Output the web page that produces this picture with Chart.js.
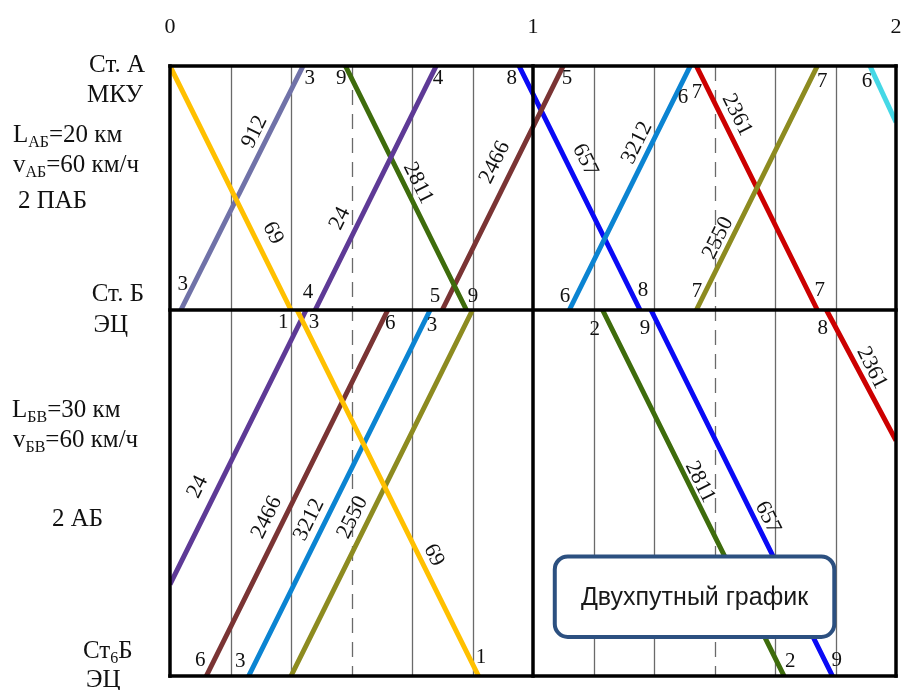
<!DOCTYPE html>
<html>
<head>
<meta charset="utf-8">
<script src="https://cdn.jsdelivr.net/npm/chart.js@4.4.1/dist/chart.umd.min.js"></script>
<style>
  html, body { margin: 0; padding: 0; background: #fff; }
  #wrap { width: 906px; height: 690px; }
</style>
</head>
<body>
<div id="wrap"><canvas id="graph" width="906" height="690"></canvas></div>
<script>
// stations (km from Ст. А) and hour ticks (minutes)
const stationKm = [0, 20, 50];
const hourLabels = ['0', '1', '2'];
const hourMinutes = [0, 60, 120];
const gridMinutes = [10, 20, 30, 40, 50, 70, 80, 90, 100, 110];
const dashedMinutes = [30, 90];

// train paths: time (min) / distance (km)
const t69 = [0, 20, 21, 51];           const km69 = [0, 20, 20, 50];
const t912 = [1.8, 22];                const km912 = [20, 0];
const t24 = [0, 22.5, 24, 44];         const km24 = [42.5, 20, 20, 0];
const t2811 = [29, 49, 71.5, 101.5];   const km2811 = [0, 20, 20, 50];
const t2466 = [6, 36, 45, 65];         const km2466 = [50, 20, 20, 0];
const t3212 = [13, 43, 66, 86];        const km3212 = [50, 20, 20, 0];
const t2550 = [20, 50, 87, 107];       const km2550 = [50, 20, 20, 0];
const t657 = [57.7, 77.7, 79.5, 109.5]; const km657 = [0, 20, 20, 50];
const t2361 = [87, 107, 108.5, 120];   const km2361 = [0, 20, 20, 30.7];
const tLast = [115.7, 120];            const kmLast = [0, 4.6];

const trains = [
  [t69, km69, '#FFC000'],
  [t912, km912, '#7072A8'],
  [t24, km24, '#5E3A96'],
  [t2811, km2811, '#3E6C0C'],
  [t2466, km2466, '#7A3434'],
  [t3212, km3212, '#0B84D2'],
  [t2550, km2550, '#8D8B20'],
  [t657, km657, '#0A0AF5'],
  [t2361, km2361, '#CC0000'],
  [tLast, kmLast, '#45D8E6']
];

// minute marks at stations
const minuteText = ['3','9','4','8','5','6','7','7','6',
                    '3','4','5','9','6','8','7','7',
                    '1','3','6','3','2','9','8',
                    '6','3','1','2','9'];
const minuteT = [23.1, 28.3, 44.3, 56.5, 65.6, 84.8, 87.1, 107.8, 115.2,
                 2.1, 22.8, 43.8, 50.1, 65.3, 78.2, 87.1, 107.4,
                 18.7, 23.8, 36.4, 43.3, 70.2, 78.5, 107.9,
                 5.0, 11.6, 51.4, 102.5, 110.2];
const minuteKm = [1.0, 1.0, 1.0, 1.0, 1.0, 2.6, 2.2, 1.3, 1.3,
                  17.9, 18.6, 18.9, 18.9, 18.9, 18.4, 18.5, 18.4,
                  21.0, 21.0, 21.1, 21.3, 21.6, 21.5, 21.5,
                  48.7, 48.85, 48.5, 48.85, 48.7];

// train numbers along lines (dir 1 = odd/down, -1 = even/up)
const numText = ['912','69','24','2811','2466','657','3212','2361','2550',
                 '24','2466','3212','2550','69','2811','657','2361'];
const numT = [14.0, 17.0, 28.1, 41.0, 53.7, 68.6, 77.2, 93.7, 90.6,
              4.6, 16.0, 23.0, 30.2, 43.6, 87.6, 98.8, 116.0];
const numKm = [5.4, 13.7, 12.5, 9.6, 7.9, 7.7, 6.3, 4.0, 14.1,
               34.5, 37.0, 37.2, 37.0, 40.1, 34.1, 37.0, 24.75];
const numDir = [-1, 1, -1, 1, -1, 1, -1, 1, -1,
                -1, -1, -1, -1, 1, 1, 1, 1];

const SERIF = '"Liberation Serif", "Times New Roman", serif';

function richText(ctx, parts, x, y, size, align) {
  // parts: [text, isSub]
  const w = parts.map(p => {
    ctx.font = (p[1] ? Math.round(size * 0.62) : size) + 'px ' + SERIF;
    return ctx.measureText(p[0]).width;
  });
  const total = w.reduce((a, b) => a + b, 0);
  let cx = align === 'right' ? x - total : x;
  parts.forEach((p, i) => {
    ctx.font = (p[1] ? Math.round(size * 0.62) : size) + 'px ' + SERIF;
    ctx.fillText(p[0], cx, p[1] ? y + size * 0.2 : y);
    cx += w[i];
  });
}

const gridPlugin = {
  id: 'grid',
  beforeDatasetsDraw(chart) {
    const { ctx, chartArea: a, scales: { x } } = chart;
    ctx.save();
    gridMinutes.forEach(m => {
      const px = Math.round(x.getPixelForValue(m)) + 0.5;
      ctx.beginPath();
      ctx.lineWidth = 1.3;
      ctx.strokeStyle = '#6a6a6a';
      ctx.setLineDash(dashedMinutes.includes(m) ? [15, 9] : []);
      ctx.moveTo(px, a.top);
      ctx.lineTo(px, a.bottom);
      ctx.stroke();
    });
    ctx.restore();
  },
  afterDatasetsDraw(chart) {
    const { ctx, chartArea: a, scales: { x, y } } = chart;
    ctx.save();
    ctx.strokeStyle = '#000';
    ctx.lineWidth = 3.5;
    ctx.lineCap = 'square';
    hourMinutes.forEach(m => {
      const px = x.getPixelForValue(m);
      ctx.beginPath(); ctx.moveTo(px, a.top); ctx.lineTo(px, a.bottom); ctx.stroke();
    });
    stationKm.forEach(k => {
      const py = y.getPixelForValue(k);
      ctx.beginPath(); ctx.moveTo(a.left, py); ctx.lineTo(a.right, py); ctx.stroke();
    });
    ctx.restore();
  }
};

const textPlugin = {
  id: 'texts',
  afterDraw(chart) {
    const { ctx, chartArea: a, scales: { x, y } } = chart;
    ctx.save();
    ctx.fillStyle = '#111';
    ctx.textAlign = 'center';
    ctx.textBaseline = 'middle';

    // hour labels on top
    ctx.font = '22px ' + SERIF;
    hourLabels.forEach((h, i) => ctx.fillText(h, x.getPixelForValue(hourMinutes[i]), 27));

    // minute marks
    ctx.font = '21px ' + SERIF;
    minuteText.forEach((s, i) => ctx.fillText(s, x.getPixelForValue(minuteT[i]), y.getPixelForValue(minuteKm[i])));

    // train numbers, rotated along the path
    const dxMin = x.getPixelForValue(1) - x.getPixelForValue(0);
    const dyKm = y.getPixelForValue(1) - y.getPixelForValue(0);
    const ang = Math.atan2(dyKm, dxMin);
    ctx.font = '22px ' + SERIF;
    numText.forEach((s, i) => {
      ctx.save();
      ctx.translate(x.getPixelForValue(numT[i]), y.getPixelForValue(numKm[i]));
      ctx.rotate(numDir[i] * ang);
      ctx.fillText(s, 0, 0);
      ctx.restore();
    });

    // left side descriptions
    ctx.textBaseline = 'alphabetic';
    ctx.textAlign = 'left';
    const yA = y.getPixelForValue(stationKm[0]);
    const yB = y.getPixelForValue(stationKm[1]);
    const yV = y.getPixelForValue(stationKm[2]);
    richText(ctx, [['Ст. А', false]], 145, yA + 6, 25, 'right');
    richText(ctx, [['МКУ', false]], 143, yA + 36, 25, 'right');
    richText(ctx, [['L', false], ['АБ', true], ['=20 км', false]], 13, yA + 76, 25, 'left');
    richText(ctx, [['v', false], ['АБ', true], ['=60 км/ч', false]], 13, yA + 106, 25, 'left');
    richText(ctx, [['2 ПАБ', false]], 18, yA + 142, 25, 'left');
    richText(ctx, [['Ст. Б', false]], 144, yB - 9, 25, 'right');
    richText(ctx, [['ЭЦ', false]], 128, yB + 22, 25, 'right');
    richText(ctx, [['L', false], ['БВ', true], ['=30 км', false]], 12, yB + 107, 25, 'left');
    richText(ctx, [['v', false], ['БВ', true], ['=60 км/ч', false]], 13, yB + 137, 25, 'left');
    richText(ctx, [['2 АБ', false]], 52, yB + 216, 25, 'left');
    richText(ctx, [['Ст', false], ['6', true], ['Б', false]], 83, yV - 18, 25, 'left');
    richText(ctx, [['ЭЦ', false]], 86, yV + 11, 25, 'left');

    // title box
    const bx0 = x.getPixelForValue(63.6), bx1 = x.getPixelForValue(109.8);
    const by0 = y.getPixelForValue(40.2), by1 = y.getPixelForValue(46.8);
    ctx.beginPath();
    ctx.roundRect(bx0, by0, bx1 - bx0, by1 - by0, 13);
    ctx.fillStyle = '#fff';
    ctx.fill();
    ctx.lineWidth = 4;
    ctx.strokeStyle = '#2C5080';
    ctx.stroke();
    ctx.fillStyle = '#1a1a1a';
    ctx.textAlign = 'center';
    ctx.textBaseline = 'middle';
    ctx.font = '25px "Liberation Sans", Arial, sans-serif';
    ctx.fillText('Двухпутный график', (bx0 + bx1) / 2, (by0 + by1) / 2 + 1);
    ctx.restore();
  }
};

// stops at a station are not drawn: break the line there
function toPoints(ts, ks) {
  const pts = [];
  ts.forEach((t, i) => {
    if (i > 0 && ks[i] === ks[i - 1]) pts.push({ x: (t + ts[i - 1]) / 2, y: null });
    pts.push({ x: t, y: ks[i] });
  });
  return pts;
}

const datasets = trains.map(([ts, ks, color]) => ({
  data: toPoints(ts, ks),
  showLine: true,
  spanGaps: false,
  borderColor: color,
  borderWidth: 5,
  pointRadius: 0,
  borderCapStyle: 'butt',
  tension: 0
}));

new Chart(document.getElementById('graph'), {
  type: 'scatter',
  data: { datasets },
  options: {
    responsive: false,
    animation: false,
    layout: { padding: { left: 170, top: 66, right: 10, bottom: 14 } },
    plugins: { legend: { display: false }, tooltip: { enabled: false } },
    scales: {
      x: { type: 'linear', min: 0, max: 120, display: false },
      y: { type: 'linear', min: 0, max: 50, reverse: true, display: false }
    }
  },
  plugins: [gridPlugin, textPlugin]
});
</script>
</body>
</html>
